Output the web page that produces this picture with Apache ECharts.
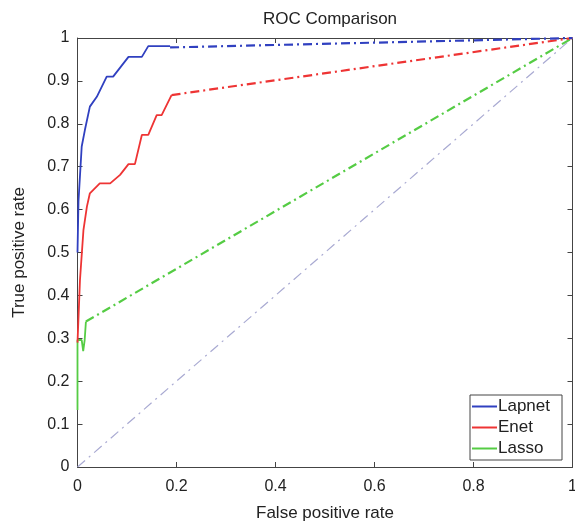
<!DOCTYPE html>
<html><head><meta charset="utf-8">
<script src="https://cdn.jsdelivr.net/npm/echarts@6/dist/echarts.min.js"></script>
<style>html,body{margin:0;padding:0;background:#fff}#c{width:575px;height:521px}</style>
</head><body><div id="c"></div>
<script>
// Data
var lapnetX = [0, 0.002, 0.0085, 0.015, 0.025, 0.039, 0.059, 0.072, 0.103, 0.13, 0.143, 0.187];
var lapnetY = [0.5, 0.62, 0.747, 0.786, 0.84, 0.863, 0.91, 0.91, 0.956, 0.956, 0.981, 0.981];
var lapnetTailX = [0.187, 1];
var lapnetTailY = [0.978, 1];

var enetX = [0, 0.005, 0.012, 0.019, 0.025, 0.045, 0.066, 0.086, 0.103, 0.116, 0.13, 0.143, 0.16, 0.17, 0.19];
var enetY = [0.29, 0.436, 0.552, 0.607, 0.638, 0.661, 0.661, 0.681, 0.706, 0.706, 0.774, 0.774, 0.82, 0.82, 0.867];
var enetTailX = [0.19, 1];
var enetTailY = [0.867, 1];

var lassoX = [0, 0, 0.0085, 0.0115, 0.0145, 0.017];
var lassoY = [0.133, 0.296, 0.296, 0.27, 0.296, 0.339];
var lassoTailX = [0.017, 1];
var lassoTailY = [0.339, 1];

var diagX = [0, 1];
var diagY = [0, 1];

var names = ['Lapnet', 'Enet', 'Lasso'];
var colors = ['#3040c0', '#ee3434', '#55cc44'];

function zip(xs, ys) { return xs.map(function (x, i) { return [x, ys[i]]; }); }

var font = 'Liberation Sans, Arial, sans-serif';
var dashDot = [9, 4, 2, 4];

var chart = echarts.init(document.getElementById('c'));
var axisLine = {show: true, onZero: false, lineStyle: {color: '#444', width: 1}};
chart.setOption({
  animation: false,
  title: {text: 'ROC Comparison', left: 325, top: 6, textAlign: 'center',
    textStyle: {fontFamily: font, fontWeight: 'normal', fontSize: 17, color: '#222'}},
  grid: {left: 77.5, right: 2.5, top: 38, bottom: 54, containLabel: false, outerBoundsMode: 'none'},
  legend: {
    data: names.map(function (n) { return {name: n, icon: 'rect'}; }),
    orient: 'vertical', right: 13, top: 395,
    itemWidth: 25, itemHeight: 2, itemGap: 4,
    borderColor: '#444', borderWidth: 1, backgroundColor: '#fff',
    padding: [3, 12, 3, 2],
    textStyle: {fontFamily: font, fontSize: 17, color: '#222', padding: [0, 0, 0, -4]}
  },
  xAxis: [
    {type: 'value', min: 0, max: 1, interval: 0.2, position: 'bottom',
      name: 'False positive rate', nameLocation: 'middle', nameGap: 38,
      nameTextStyle: {fontFamily: font, fontSize: 17, color: '#222'},
      axisLine: axisLine, axisTick: {inside: true, length: 5, lineStyle: {color: '#444'}},
      axisLabel: {fontFamily: font, fontSize: 16, color: '#222', margin: 12},
      splitLine: {show: false}},
    {type: 'value', min: 0, max: 1, interval: 0.2, position: 'top',
      axisLine: axisLine, axisTick: {inside: true, length: 5, lineStyle: {color: '#444'}},
      axisLabel: {show: false}, splitLine: {show: false}}
  ],
  yAxis: [
    {type: 'value', min: 0, max: 1, interval: 0.1, position: 'left',
      name: 'True positive rate', nameLocation: 'middle', nameGap: 50,
      nameTextStyle: {fontFamily: font, fontSize: 17, color: '#222'},
      axisLine: axisLine, axisTick: {inside: true, length: 5, lineStyle: {color: '#444'}},
      axisLabel: {fontFamily: font, fontSize: 16, color: '#222', margin: 8},
      splitLine: {show: false}},
    {type: 'value', min: 0, max: 1, interval: 0.1, position: 'right',
      axisLine: axisLine, axisTick: {inside: true, length: 5, lineStyle: {color: '#444'}},
      axisLabel: {show: false}, splitLine: {show: false}}
  ],
  series: [
    {name: 'diag', type: 'line', data: zip(diagX, diagY), showSymbol: false, silent: true,
      lineStyle: {color: '#a9aad2', width: 1.2, type: [10, 5, 2, 5]}, z: 1},
    {name: 'Lasso', type: 'line', data: zip(lassoTailX, lassoTailY), showSymbol: false,
      lineStyle: {color: colors[2], width: 2.2, type: dashDot}, itemStyle: {color: colors[2]}, z: 2},
    {name: 'Enet', type: 'line', data: zip(enetTailX, enetTailY), showSymbol: false,
      lineStyle: {color: colors[1], width: 2.2, type: dashDot}, itemStyle: {color: colors[1]}, z: 2},
    {name: 'Lapnet', type: 'line', data: zip(lapnetTailX, lapnetTailY), showSymbol: false,
      lineStyle: {color: colors[0], width: 2.2, type: dashDot}, itemStyle: {color: colors[0]}, z: 2},
    {name: 'Lasso', type: 'line', data: zip(lassoX, lassoY), showSymbol: false,
      lineStyle: {color: colors[2], width: 1.8}, itemStyle: {color: colors[2]}, z: 3},
    {name: 'Enet', type: 'line', data: zip(enetX, enetY), showSymbol: false,
      lineStyle: {color: colors[1], width: 1.8}, itemStyle: {color: colors[1]}, z: 3},
    {name: 'Lapnet', type: 'line', data: zip(lapnetX, lapnetY), showSymbol: false,
      lineStyle: {color: colors[0], width: 1.8}, itemStyle: {color: colors[0]}, z: 3}
  ]
});
</script></body></html>
